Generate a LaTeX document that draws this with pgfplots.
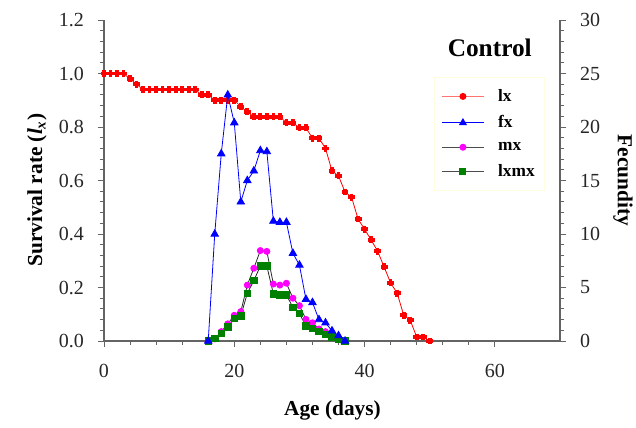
\documentclass[border=0pt]{standalone}
\usepackage{pgfplots}
\pgfplotsset{compat=1.18}
\usepackage{fontspec}
\setmainfont{Liberation Serif}
\definecolor{lxred}{RGB}{255,0,0}
\definecolor{fxblue}{RGB}{0,0,255}
\definecolor{mxmag}{RGB}{255,0,255}
\definecolor{lxmxgreen}{RGB}{0,128,0}
\definecolor{axgray}{RGB}{100,100,100}
\begin{document}
\begin{tikzpicture}
\useasboundingbox (-78pt,-65.25pt) rectangle (399pt,255.75pt);
\pgfplotsset{
  common/.style={
    scale only axis, width=342pt, height=240.75pt,
    at={(0,0)}, anchor=south west,
    xmin=0, xmax=70, clip=false,
    tick align=outside,
    major tick length=4.5pt, minor tick length=3pt,
    every tick/.style={axgray, line width=0.6pt},
    axis line style={axgray, line width=0.8pt},
    /pgf/number format/assume math mode=true,
    ticklabel style={font=\fontsize{15}{17}\selectfont, text=black!85},
    label style={font=\bfseries\fontsize{16}{18}\selectfont},
  }
}
\begin{axis}[common,
  axis x line*=bottom, axis y line*=left,
  ymin=0, ymax=1.2,
  xtick={0,20,40,60}, minor x tick num=4,
  ytick={0,0.2,0.4,0.6,0.8,1.0,1.2}, minor y tick num=4,
  yticklabel style={/pgf/number format/.cd, fixed, fixed zerofill, precision=1, /tikz/.cd, xshift=-7pt},
  xticklabel style={yshift=-9pt},
  xlabel={Age (days)},
  xlabel style={at={(axis description cs:0.501,-0.215)}, anchor=center},
  ylabel={Survival rate (\textit{l}\textsubscript{\textit{x}})},
  ylabel style={at={(axis description cs:-0.147,0.47)}, anchor=center, rotate=0},
]
\addplot[lxred, line width=0.6pt, mark=+, mark size=2.6pt, mark options={line width=2.8pt, lxred}] coordinates {
(0,1.00) (1,1.00) (2,1.00) (3,1.00) (4,0.98) (5,0.96) (6,0.94) (7,0.94) (8,0.94) (9,0.94)
(10,0.94) (11,0.94) (12,0.94) (13,0.94) (14,0.94) (15,0.92) (16,0.92) (17,0.90) (18,0.90) (19,0.90)
(20,0.90) (21,0.876) (22,0.857) (23,0.838) (24,0.838) (25,0.838) (26,0.838) (27,0.838) (28,0.816) (29,0.816)
(30,0.797) (31,0.797) (32,0.758) (33,0.758) (34,0.72) (35,0.636) (36,0.617) (37,0.557) (38,0.538) (39,0.456)
(40,0.418) (41,0.378) (42,0.336) (43,0.277) (44,0.217) (45,0.179) (46,0.097) (47,0.078) (48,0.015) (49,0.015)
(50,0.0)
};
\addplot[black!85, line width=0.6pt, mark=*, mark size=2.3pt, mark options={mxmag, draw=mxmag}] coordinates {
(16,0) (17,0.008) (18,0.035) (19,0.064) (20,0.096) (21,0.11) (22,0.209) (23,0.272) (24,0.338) (25,0.335)
(26,0.213) (27,0.209) (28,0.216) (29,0.160) (30,0.132) (31,0.081) (32,0.068) (33,0.045) (34,0.035) (35,0.02)
(36,0.01) (37,0)
};
\addplot[black!85, line width=0.6pt, mark=square*, mark size=2.4pt, mark options={lxmxgreen, draw=lxmxgreen}] coordinates {
(16,0) (17,0.010) (18,0.028) (19,0.053) (20,0.084) (21,0.094) (22,0.178) (23,0.226) (24,0.280) (25,0.280)
(26,0.176) (27,0.172) (28,0.172) (29,0.126) (30,0.103) (31,0.056) (32,0.047) (33,0.035) (34,0.025) (35,0.016)
(36,0.006) (37,0)
};
\end{axis}
\begin{axis}[common,
  axis x line=none, axis y line*=right,
  ymin=0, ymax=30,
  ytick={0,5,10,15,20,25,30}, minor y tick num=4,
  yticklabel style={xshift=7pt},
  ylabel={Fecundity},
  ylabel style={at={(axis description cs:1.138,0.5)}, anchor=center, rotate=180},
  legend style={at={(axis description cs:0.724,0.822)}, anchor=north west,
    draw=yellow!12, fill=white, font=\bfseries\fontsize{13}{15}\selectfont,
    inner xsep=5pt, inner ysep=7pt, row sep=5.2pt},
  legend cell align=left,
  legend image code/.code={\draw[mark repeat=2,mark phase=2] plot coordinates {(0pt,0pt) (16pt,0pt) (32pt,0pt)};},
]
\addplot[forget plot, fxblue, line width=0.6pt, mark=triangle*, mark size=3.2pt, mark options={fxblue}] coordinates {
(16,0) (17,10.0) (18,17.5) (19,23.0) (20,20.4) (21,13.0) (22,15.0) (23,15.9) (24,17.8) (25,17.7)
(26,11.2) (27,11.1) (28,11.1) (29,8.2) (30,7.1) (31,3.9) (32,3.6) (33,2.0) (34,1.7) (35,0.95)
(36,0.5) (37,0)
};
\addlegendimage{red!55, line width=0.8pt, mark=*, mark size=2.2pt, mark options={lxred, draw=lxred}}
\addlegendentry{\hspace{8pt}lx\hspace{6pt}}
\addlegendimage{fxblue, line width=0.8pt, mark=triangle*, mark size=2.8pt, mark options={fxblue}}
\addlegendentry{\hspace{8pt}fx}
\addlegendimage{black!70, line width=0.8pt, mark=*, mark size=2.2pt, mark options={mxmag, draw=mxmag}}
\addlegendentry{\hspace{8pt}mx}
\addlegendimage{black!70, line width=0.8pt, mark=square*, mark size=2.2pt, mark options={lxmxgreen, draw=lxmxgreen}}
\addlegendentry{\hspace{8pt}lxmx\hspace{4pt}}
\node[font=\bfseries\fontsize{19}{22}\selectfont] at (axis description cs:0.846,0.913) {Control};
\end{axis}
\end{tikzpicture}
\end{document}
